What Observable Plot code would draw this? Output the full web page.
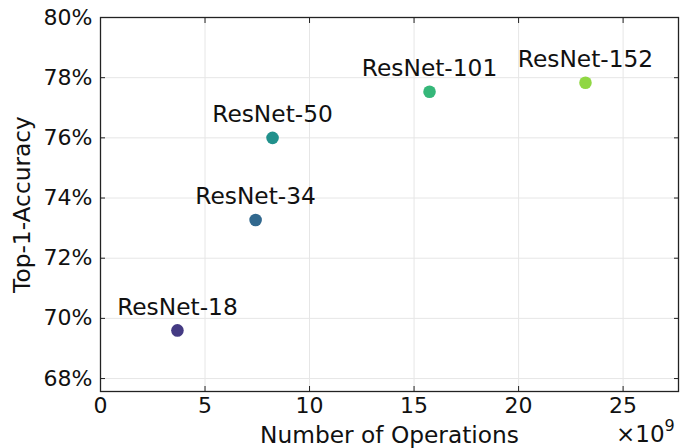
<!DOCTYPE html>
<html>
<head>
<meta charset="utf-8">
<script src="https://cdn.jsdelivr.net/npm/d3@7"></script>
<script src="https://cdn.jsdelivr.net/npm/@observablehq/plot@0.6"></script>
<style>
  html, body { margin: 0; padding: 0; background: #fff; }
  #chart { position: relative; width: 694px; height: 448px; overflow: hidden; }
  #chart svg { font-family: "DejaVu Sans", sans-serif; }
  .exp { position: absolute; left: 616px; top: 423px; font: 23px "DejaVu Sans", sans-serif; color: #111; line-height: 1; }
  .exp sup { font-size: 16px; position: relative; top: -5px; vertical-align: top; }
</style>
</head>
<body>
<div id="chart"></div>
<script>
const models = ["ResNet-18", "ResNet-34", "ResNet-50", "ResNet-101", "ResNet-152"];
const operations = [3.68, 7.42, 8.23, 15.74, 23.2];   // ×10^9
const accuracy = [69.6, 73.27, 76.0, 77.53, 77.83];   // %
const colors = ["#443a83", "#31688e", "#21918c", "#35b779", "#90d743"];
const xTicks = [0, 5, 10, 15, 20, 25];
const yTicks = [68, 70, 72, 74, 76, 78, 80];

const data = models.map((m, i) => ({model: m, ops: operations[i], acc: accuracy[i], color: colors[i]}));

const xDomain = [0, 27.65];
const yDomain = [67.57, 80];

const plot = Plot.plot({
  width: 694,
  height: 448,
  marginLeft: 100,
  marginRight: 16,
  marginTop: 17,
  marginBottom: 57,
  style: {fontSize: "22px", fontFamily: "DejaVu Sans, sans-serif", color: "#111", background: "#fff"},
  x: {domain: xDomain},
  y: {domain: yDomain},
  marks: [
    Plot.gridX(xTicks, {stroke: "#e6e6e6", strokeOpacity: 1, strokeWidth: 1}),
    Plot.gridY(yTicks, {stroke: "#e6e6e6", strokeOpacity: 1, strokeWidth: 1}),
    Plot.frame({stroke: "#222", strokeWidth: 1.3}),
    // inward ticks
    Plot.axisX(xTicks, {anchor: "bottom", tickSize: 5, dy: -5, text: null, label: null, stroke: "#222"}),
    Plot.axisX(xTicks, {anchor: "top", tickSize: 5, dy: 5, text: null, label: null, stroke: "#222"}),
    Plot.axisY(yTicks, {anchor: "left", tickSize: 5, dx: 5, text: null, label: null, stroke: "#222"}),
    Plot.axisY(yTicks, {anchor: "right", tickSize: 5, dx: -5, text: null, label: null, stroke: "#222"}),
    // labels
    Plot.axisX(xTicks, {anchor: "bottom", tickSize: 0, tickPadding: 6, fontSize: 22, label: null}),
    Plot.axisY(yTicks, {anchor: "left", tickSize: 0, tickPadding: 8, fontSize: 22, tickFormat: d => d + "%", label: null}),
    Plot.axisX({anchor: "bottom", ticks: [], tickSize: 0, fontSize: 23.3, label: "Number of Operations", labelAnchor: "center", labelArrow: false, labelOffset: 51}),
    Plot.axisY({anchor: "left", ticks: [], tickSize: 0, fontSize: 23.3, label: "Top-1-Accuracy", labelAnchor: "center", labelArrow: false, labelOffset: 87}),
    Plot.dot(data, {x: "ops", y: "acc", r: 6.3, fill: "color", stroke: null}),
    Plot.text(data, {x: "ops", y: "acc", text: "model", dy: -23, fontSize: 23.3, fill: "#111"})
  ]
});
document.getElementById("chart").appendChild(plot);
const e = document.createElement("div");
e.className = "exp";
e.innerHTML = "×10<sup>9</sup>";
document.getElementById("chart").appendChild(e);
</script>
</body>
</html>
